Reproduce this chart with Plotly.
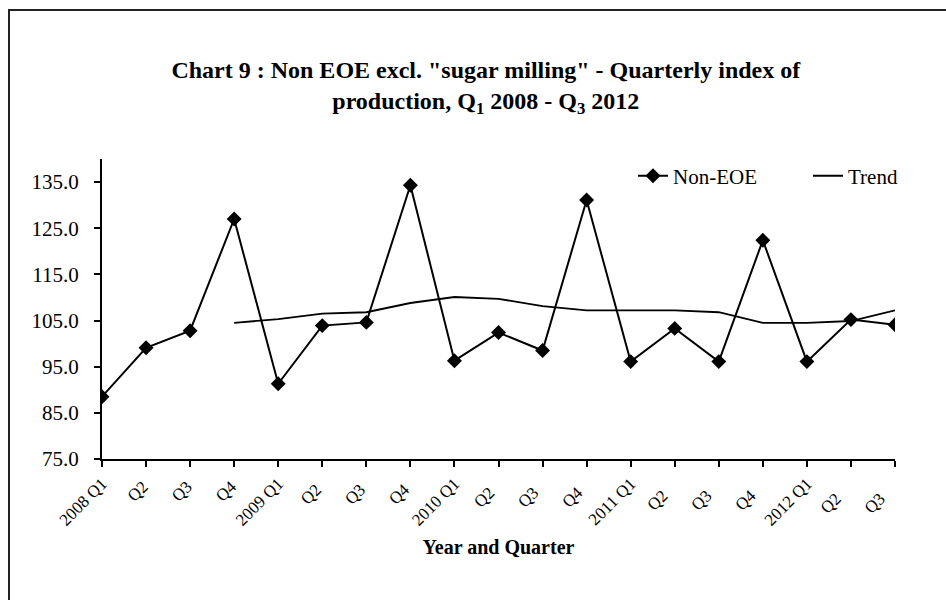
import plotly.graph_objects as go

categories = ["2008 Q1", "Q2 ", "Q3 ", "Q4 ", "2009 Q1", "Q2  ", "Q3  ", "Q4  ",
              "2010 Q1", "Q2   ", "Q3   ", "Q4   ", "2011 Q1", "Q2    ", "Q3    ", "Q4    ",
              "2012 Q1", "Q2     ", "Q3     "]
non_eoe = [88.5, 99.1, 102.8, 127.0, 91.3, 103.9, 104.6, 134.3,
           96.3, 102.4, 98.5, 131.1, 96.1, 103.3, 96.1, 122.4,
           96.1, 105.2, 104.1]
trend = [None, None, None, 104.5, 105.3, 106.5, 106.8, 108.8,
         110.1, 109.7, 108.1, 107.2, 107.2, 107.2, 106.8, 104.5,
         104.5, 104.9, 107.2]

FONT = '"Liberation Serif", "Times New Roman", serif'

fig = go.Figure()
fig.add_trace(go.Scatter(x=categories, y=non_eoe, name="Non-EOE", mode="lines+markers",
                         line=dict(color="black", width=2),
                         marker=dict(symbol="diamond", size=11.5, color="black"),
                         legend="legend"))
fig.add_trace(go.Scatter(x=categories, y=trend, name="Trend", mode="lines",
                         line=dict(color="black", width=1.8),
                         legend="legend2"))

leg_common = dict(orientation="h", y=0.943, xanchor="left", yanchor="middle",
                  bgcolor="rgba(0,0,0,0)", font=dict(family=FONT, size=21))

fig.update_layout(
    width=946, height=600,
    margin=dict(l=102, r=51, t=159, b=141),
    paper_bgcolor="white", plot_bgcolor="white",
    font=dict(family=FONT, size=21, color="black"),
    title=dict(text='Chart 9 : Non EOE excl. "sugar milling" - Quarterly index of<br>production, Q<sub>1</sub> 2008 - Q<sub>3</sub> 2012',
               xref="paper", x=0.484, xanchor="center", y=0.870, yanchor="middle",
               font=dict(family=FONT, size=24, color="black", weight="bold")),
    showlegend=True,
    legend=dict(x=(633 - 102) / 793, **leg_common),
    legend2=dict(x=(808 - 102) / 793, **leg_common),
    xaxis=dict(type="category", range=[0, 18], showgrid=False, showline=True,
               linecolor="black", linewidth=2, ticks="outside", ticklen=6,
               tickcolor="black", tickwidth=2, tickangle=-45,
               tickfont=dict(family=FONT, size=17),
               title=dict(text="<b>Year and Quarter</b>", font=dict(family=FONT, size=20), standoff=12)),
    yaxis=dict(range=[75, 140], tick0=75, dtick=10, tickformat=".1f",
               showgrid=False, showline=True, linecolor="black", linewidth=2,
               ticks="outside", ticklen=6, tickcolor="black", tickwidth=2,
               ticklabelstandoff=11,
               tickfont=dict(family=FONT, size=21), zeroline=False),
    shapes=[dict(type="rect", xref="paper", yref="paper",
                 x0=(9 - 102) / 793, x1=1.2, y0=-0.6, y1=(459 - 10) / 300,
                 line=dict(color="#222", width=2), fillcolor="rgba(0,0,0,0)")],
)

fig.write_html("out.html")
